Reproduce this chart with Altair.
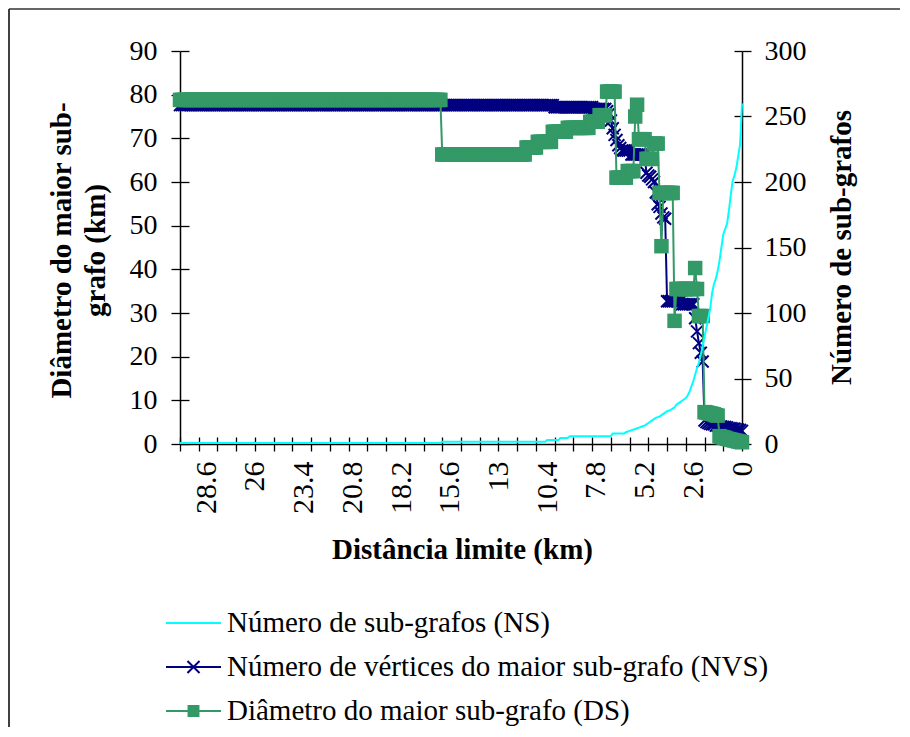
import altair as alt
import pandas as pd

# ---------------- data ----------------
# categories: distance limit (km), 30.0 down to 0.0 in 0.1 km steps
dist = [round(30 - 0.1 * i, 1) for i in range(301)]

# Número de sub-grafos (NS) – secondary (right) axis
ns = ([0.8] * 140 + [1.8] * 56 + [3.0] * 7 + [4.5] * 5 + [6.0] * 23 + [8.0] * 7
      + [9, 9.5, 10, 10.5, 11, 11.5, 12, 12.5]
      + [13, 13.5, 14, 15, 16]
      + [17, 18, 19, 20, 20.5, 21, 22, 23]
      + [24, 25, 25.5, 26, 27, 28]
      + [30, 31, 32, 33, 34, 35]
      + [37, 40, 44, 48, 53, 58, 62, 68, 75, 82]
      + [89, 96, 103, 115, 122, 126, 132, 140, 150, 160]
      + [164, 168, 178, 190, 201, 205, 211, 220, 229, 260])

# Número de vértices do maior sub-grafo (NVS) – primary (left) axis
nvs = ([77.6] * 200 + [77.1] * 21 + [76.7] * 7
       + [76.2, 75.6, 74.1, 72.3, 70.8, 69.6, 68.4, 67.8]
       + [67.2] * 5 + [66.3] * 8
       + [62.1, 61.5, 61.2, 60.6, 60.0, 57.6, 54.9, 54.3, 52.8, 51.9, 51.6]
       + [32.7] * 8 + [32.0] * 7
       + [28.8, 25.8, 23.1, 20.9, 18.9]
       + [5.4]
       + [5.0, 4.8, 4.6, 4.5, 4.5, 4.2, 4.2, 4.0, 4.0, 3.9,
          3.9, 3.8, 3.6, 3.6, 3.5, 3.5, 3.3, 3.3, 3.2, 3.0])

# Diâmetro do maior sub-grafo (DS) – primary (left) axis
ds = ([78.8] * 140 + [66.3] * 45 + [67.9] * 6 + [69.2] * 8 + [71.5] * 8
      + [72.4] * 12 + [73.8] * 5 + [75.3] * 4 + [80.7] * 5
      + [61.0] * 6 + [62.5] * 4 + [75.0, 77.7] + [69.8] * 4 + [65.3] * 4
      + [68.8] * 3 + [57.5, 45.3] + [57.5] * 6
      + [28.2] + [35.5] * 10 + [40.3, 35.5] + [29.3] * 3
      + [7.3, 7.2, 7.1, 7.0, 6.9, 6.8, 6.6, 6.5]
      + [1.8, 1.6, 1.5, 1.4, 1.2, 1.1, 1.0, 0.9, 0.8, 0.7, 0.6, 0.5, 0.4])

series_names = ["Número de sub-grafos (NS)",
                "Número de vértices do maior sub-grafo (NVS)",
                "Diâmetro do maior sub-grafo (DS)"]

x_tick_values = list(range(0, 31))
x_label_values = [0, 2.6, 5.2, 7.8, 10.4, 13, 15.6, 18.2, 20.8, 23.4, 26, 28.6]
yl_values = [0, 10, 20, 30, 40, 50, 60, 70, 80, 90]
yr_values = [0, 50, 100, 150, 200, 250, 300]

df = pd.DataFrame({"d": dist, "ns": ns, "nvs": nvs, "ds": ds})

# ---------------- styles ----------------
SERIF = "Liberation Serif"
CYAN = "#00FFFF"
NAVY = "#000080"
GREEN = "#339966"
XPATH = "M-1,-1L1,1M-1,1L1,-1"
legend_paths = ["M-1,0H1",
                "M-1,0H1M-0.22,-0.22L0.22,0.22M-0.22,0.22L0.22,-0.22",
                "M-1,0H1M-0.18,-0.18H0.18V0.18H-0.18Z"]

X_SCALE = alt.Scale(domain=[0, 30], reverse=True, nice=False, zero=False)
YL = alt.Scale(domain=[0, 90], nice=False)
YR = alt.Scale(domain=[0, 300], nice=False)

TICK = dict(tickColor="black", tickWidth=1.3, grid=False)
LAB = dict(labelFont=SERIF, labelFontSize=28, labelColor="black",
           labelFlush=False, labelOverlap=False)
TIT = dict(titleFont=SERIF, titleFontSize=29, titleFontWeight="bold",
           titleColor="black", titleAlign="center", titleBaseline="alphabetic")

ax_x_ticks_out = alt.Axis(orient="bottom", values=x_tick_values, labels=False,
                          tickSize=7, domain=True, domainColor="black",
                          domainWidth=1.5, title=None, **TICK)
ax_x_ticks_in = alt.Axis(orient="bottom", offset=-7, values=x_tick_values,
                         labels=False, tickSize=7, domain=False, title=None, **TICK)
ax_x_labels = alt.Axis(orient="bottom", values=x_label_values, ticks=False,
                       tickSize=0, domain=False, grid=False, labelAngle=270,
                       labelAlign="right", labelBaseline="middle",
                       labelPadding=17, format=".3~g",
                       labelFont=SERIF, labelFontSize=30, labelColor="black",
                       labelFlush=False, labelOverlap=False,
                       title="Distância limite (km)", titleX=282, titleY=114,
                       titleAngle=0, **TIT)

ax_yl_main = alt.Axis(orient="left", values=yl_values, tickSize=9,
                      labelPadding=14, domain=True, domainColor="black",
                      domainWidth=1.5,
                      title=["Diâmetro do maior sub-", "grafo (km)"],
                      titleAngle=270, titleX=-110, titleY=199,
                      titleLineHeight=34, **TICK, **LAB, **TIT)
ax_yl_in = alt.Axis(orient="left", offset=-9, values=yl_values, tickSize=9,
                    labels=False, domain=False, title=None, **TICK)
ax_yr_main = alt.Axis(orient="right", values=yr_values, tickSize=9,
                      labelPadding=13, domain=True, domainColor="black",
                      domainWidth=1.5, title="Número de sub-grafos",
                      titleAngle=270, titleX=108, titleY=196,
                      **TICK, **LAB, **TIT)
ax_yr_in = alt.Axis(orient="right", offset=-8, values=yr_values, tickSize=8,
                    labels=False, domain=False, title=None, **TICK)

base = alt.Chart(df)


def xenc(axis):
    return alt.X("d:Q", scale=X_SCALE, axis=axis)


nvs_line = base.mark_line(color=NAVY, strokeWidth=2).encode(
    x=xenc(ax_x_labels), y=alt.Y("nvs:Q", scale=YL, axis=ax_yl_in))
nvs_pts = base.mark_point(shape=XPATH, filled=False, color=NAVY,
                          strokeWidth=2, size=144, opacity=1).encode(
    x=xenc(None), y=alt.Y("nvs:Q", scale=YL, axis=None))
ds_line = base.mark_line(color=GREEN, strokeWidth=2).encode(
    x=xenc(ax_x_ticks_in), y=alt.Y("ds:Q", scale=YL, axis=ax_yl_main))
ds_pts = base.mark_point(shape="square", filled=True, color=GREEN,
                         size=210, opacity=1).encode(
    x=xenc(None), y=alt.Y("ds:Q", scale=YL, axis=None))
ns_line = base.mark_line(color=CYAN, strokeWidth=2).encode(
    x=xenc(ax_x_ticks_out), y=alt.Y("ns:Q", scale=YR, axis=ax_yr_main))

leg = alt.Legend(title=None, orient="none", legendX=-15, legendY=557,
                 direction="vertical", symbolSize=3025, symbolStrokeWidth=2,
                 clipHeight=30, rowPadding=14, labelFont=SERIF,
                 labelFontSize=29, labelColor="black", labelOffset=5,
                 labelLimit=1000, padding=0)

legend_df = pd.DataFrame({"series": pd.Series([], dtype=str),
                          "v": pd.Series([], dtype=float)})
legend_layer = alt.Chart(legend_df).mark_point(filled=True, opacity=1).encode(
    y=alt.Y("v:Q", scale=YR, axis=ax_yr_in),
    fill=alt.Fill("series:N", scale=alt.Scale(domain=series_names,
                  range=["transparent", NAVY, GREEN]), legend=leg),
    stroke=alt.Stroke("series:N", scale=alt.Scale(domain=series_names,
                      range=[CYAN, NAVY, GREEN]), legend=leg),
    shape=alt.Shape("series:N", scale=alt.Scale(domain=series_names,
                    range=legend_paths), legend=leg),
)

frame_df = pd.DataFrame({"k": [0]})
frame_left = alt.Chart(frame_df).mark_rule(color="black", strokeWidth=1.5).encode(
    x=alt.value(-171), y=alt.value(-42), y2=alt.value(676))
frame_top = alt.Chart(frame_df).mark_rule(color="#333333", strokeWidth=1.5).encode(
    x=alt.value(-171), x2=alt.value(720), y=alt.value(-42))

chart = alt.layer(
    nvs_line, nvs_pts, ds_line, ds_pts, ns_line, legend_layer,
    frame_left, frame_top,
).resolve_scale(
    y="independent"
).resolve_axis(
    x="independent", y="independent"
).properties(
    width=562, height=393, padding=0, background="white"
).configure_view(stroke=None)

chart.save("out.html", embed_options={"renderer": "svg", "actions": False})
